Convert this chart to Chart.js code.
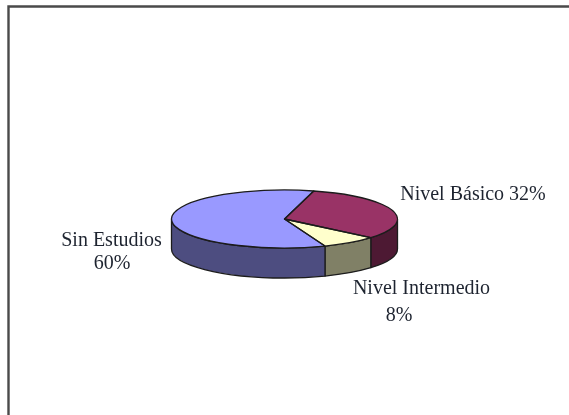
<!DOCTYPE html>
<html><head><meta charset="utf-8">
<script src="https://cdn.jsdelivr.net/npm/chart.js@4"></script>
<style>
html,body{margin:0;padding:0;background:#fff;overflow:hidden}
#w{position:relative;width:569px;height:415px}
canvas{display:block;filter:blur(0.7px)}
</style></head><body>
<div id="w"><canvas id="c" width="569" height="415"></canvas></div>
<script>
const categories = ["Nivel Básico", "Nivel Intermedio", "Sin Estudios"];
const values = [32, 8, 60];
const topColors = ["#993366", "#FFFFCC", "#9999FF"];
const wallColors = ["#4D1933", "#808066", "#4D4D80"];

const SQUASH = 29 / 113, DEPTH = 30, INK = "#1c1c1c";
const TAU = Math.PI * 2;

function frontRange(a) {
  // part of a slice that lies on the near half of the rim (canvas angles 0..PI)
  let s = a.startAngle, e = a.endAngle;
  while (s < -Math.PI) { s += TAU; e += TAU; }
  const out = [];
  [[0, Math.PI], [TAU, TAU + Math.PI]].forEach(([lo, hi]) => {
    const p = Math.max(s, lo), q = Math.min(e, hi);
    if (q > p) out.push([p, q]);
  });
  return out;
}

const pie3d = {
  id: "pie3d",
  beforeDatasetsDraw(chart) {
    const ctx = chart.ctx, arcs = chart.getDatasetMeta(0).data;
    // frame
    ctx.save();
    ctx.strokeStyle = "#4a4a4a"; ctx.lineWidth = 2.4;
    ctx.beginPath();
    ctx.moveTo(8.5, 415); ctx.lineTo(8.5, 6.5); ctx.lineTo(569, 6.5);
    ctx.stroke();
    ctx.restore();
    // walls
    arcs.forEach((a, i) => {
      frontRange(a).forEach(([p, q]) => {
        const rx = a.outerRadius, ry = rx * SQUASH;
        ctx.save();
        ctx.beginPath();
        ctx.ellipse(a.x, a.y, rx, ry, 0, p, q);
        ctx.lineTo(a.x + rx * Math.cos(q), a.y + ry * Math.sin(q) + DEPTH);
        ctx.ellipse(a.x, a.y + DEPTH, rx, ry, 0, q, p, true);
        ctx.closePath();
        ctx.fillStyle = wallColors[i]; ctx.fill();
        ctx.strokeStyle = INK; ctx.lineWidth = 1.3; ctx.lineJoin = "round"; ctx.stroke();
        ctx.restore();
      });
    });
    // squash the library's own arcs into the tilted disc
    const a0 = arcs[0];
    ctx.save();
    ctx.translate(a0.x, a0.y); ctx.scale(1, SQUASH); ctx.translate(-a0.x, -a0.y);
  },
  afterDatasetsDraw(chart) {
    const ctx = chart.ctx, arcs = chart.getDatasetMeta(0).data;
    ctx.restore();
    arcs.forEach(a => {
      const rx = a.outerRadius, ry = rx * SQUASH;
      ctx.save();
      ctx.beginPath();
      ctx.moveTo(a.x, a.y);
      ctx.ellipse(a.x, a.y, rx, ry, 0, a.startAngle, a.endAngle);
      ctx.closePath();
      ctx.strokeStyle = INK; ctx.lineWidth = 1.3; ctx.lineJoin = "round"; ctx.stroke();
      ctx.restore();
    });
    // labels
    ctx.save();
    ctx.fillStyle = "#1e2430";
    ctx.textBaseline = "middle"; ctx.textAlign = "center";
    ctx.font = '20px "Liberation Serif"';
    ctx.fillText(categories[0] + " " + values[0] + "%", 473, 195);
    ctx.fillText(categories[1], 421.5, 289);
    ctx.fillText(values[1] + "%", 399, 316);
    ctx.fillText(categories[2], 111.5, 241);
    ctx.fillText(values[2] + "%", 112, 264);
    ctx.restore();
  }
};

new Chart(document.getElementById("c"), {
  type: "pie",
  data: {
    labels: categories,
    datasets: [{ data: values, backgroundColor: topColors, borderWidth: 0 }]
  },
  options: {
    responsive: false, animation: false, devicePixelRatio: 1,
    rotation: 15, radius: 113,
    layout: { padding: { top: 23 } },
    plugins: { legend: { display: false }, tooltip: { enabled: false } }
  },
  plugins: [pie3d]
});
</script>
</body></html>
